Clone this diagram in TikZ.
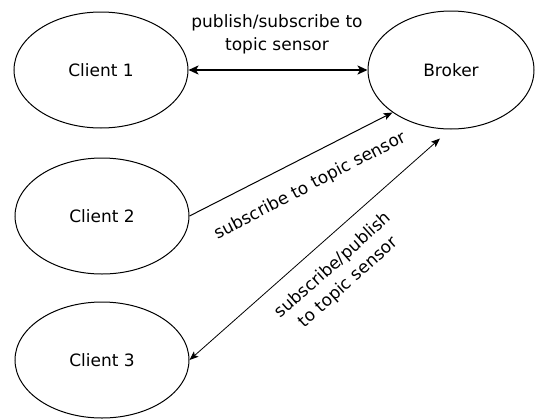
\documentclass[tikz,border=0pt]{standalone}
\usepackage{fontspec}
\setmainfont{DejaVu Sans}
\usetikzlibrary{shapes.geometric,arrows.meta}
\begin{document}
\begin{tikzpicture}[x=1pt,y=-1pt,
  ell/.style={draw, ellipse, line width=1pt, inner sep=0pt, minimum width=174pt, minimum height=116pt, font=\fontsize{17}{20}\selectfont},
  lbl/.style={font=\fontsize{17}{23}\selectfont, align=center, inner sep=0pt},
  bigtip/.tip={Stealth[length=10pt,width=9pt,inset=2.5pt]},
  smalltip/.tip={Stealth[length=9pt,width=7pt,inset=2pt]}]
\useasboundingbox (0,0) rectangle (535,418);
\node[ell] (c1) at (101,70) {Client 1};
\node[ell] (c2) at (102,216) {Client 2};
\node[ell] (c3) at (102,360) {Client 3};
\node[ell, minimum width=166pt, minimum height=118pt] (b) at (451,70) {Broker};
\draw[line width=1.8pt, bigtip-bigtip] (c1.east) -- (b.west);
\draw[line width=1pt, -smalltip] (c2.east) -- (b.216);
\coordinate (bend) at ([shift={(-11,9)}]b.south);
\draw[line width=0.8pt, smalltip-smalltip] (c3.east) -- (bend);
\node[lbl] (l1) at (277,34) {publish/subscribe to\\topic sensor};
\node[lbl, rotate=27.5] (l2) at (310,186) {subscribe to topic sensor};
\node[lbl, rotate=41.7] (l3) at (341,274) {subscribe/publish\\to topic sensor};
\end{tikzpicture}
\end{document}
